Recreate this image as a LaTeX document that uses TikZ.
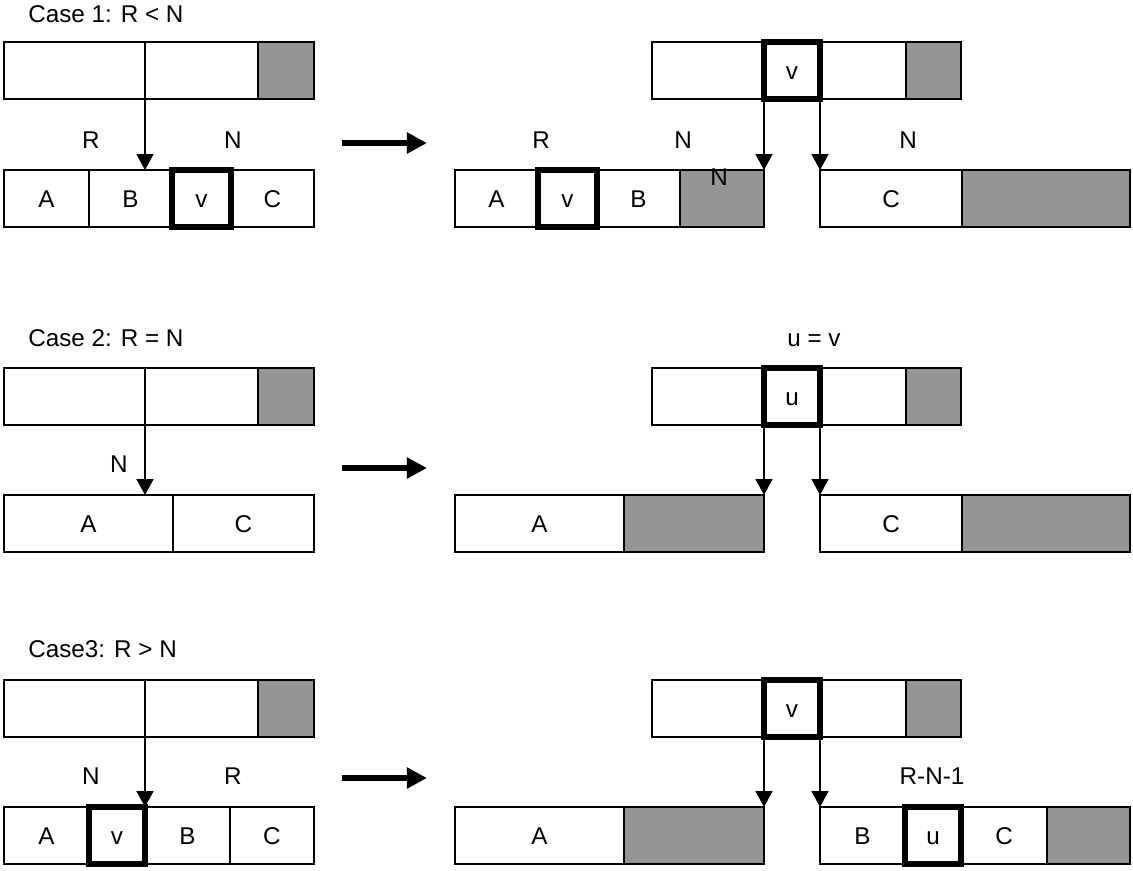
\documentclass[tikz,border=0pt]{standalone}
\usepackage{fontspec}
\setmainfont{Liberation Sans}
\usepackage{tikz}
\usetikzlibrary{arrows.meta,calc}
\definecolor{shadex}{HTML}{969696}
\tikzset{
  cell/.style={draw,line width=1.1pt,inner sep=0pt,outer sep=0pt,minimum height=1.14cm,
    text height=9.8pt,text depth=0pt,font=\fontsize{13.8}{16}\selectfont},
  shade/.style={cell,fill=shadex},
  hot/.style={cell,line width=3.2pt},
  lbl/.style={inner sep=0pt,text height=9.8pt,text depth=0pt,font=\fontsize{13.8}{16}\selectfont},
  ar/.style={-{Triangle[length=9pt,width=9.5pt]},line width=1.1pt},
  bigar/.style={-{Triangle[length=11.5pt,width=11.5pt]},line width=3.8pt}
}

\begin{document}
\begin{tikzpicture}[x=0.02cm,y=-0.02cm]
\def\seg#1#2#3#4#5#6{\node[#6,minimum width={(#3-#2)*0.02cm}] (#1) at ({(#2+#3)/2},{#4+28.5}) {#5};}
\useasboundingbox (0,0) rectangle (1133,870);
% case 1
\node[lbl,anchor=west] (c1) at (28,14) {Case 1: R < N};
\seg{ta1}{4}{145}{42}{}{cell}
\seg{tb1}{145}{258}{42}{}{cell}
\seg{tg1}{258}{314}{42}{}{shade}
\seg{ba1}{4}{89}{170}{A}{cell}
\seg{bb1}{89}{172}{170}{B}{cell}
\seg{bc1}{231}{314}{170}{C}{cell}
\seg{bv1}{172}{231}{170}{v}{hot}
\draw[ar] (ta1.south east) -- (ta1.south east |- ba1.north);
\node[lbl] (r1) at (91,140) {R};
\node[lbl] (n1) at (233,140) {N};
\coordinate (s1) at (342,143);
\coordinate (e1) at (427,143);
\draw[bigar] (s1) -- (e1);
\seg{ra1}{652}{764}{42}{}{cell}
\seg{rb1}{820}{906}{42}{}{cell}
\seg{rg1}{906}{961}{42}{}{shade}
\seg{rv1}{764}{820}{42}{v}{hot}
\seg{la1}{455}{538}{170}{A}{cell}
\seg{lb1}{597}{680}{170}{B}{cell}
\seg{lg1}{680}{764}{170}{}{shade}
\seg{lv1}{538}{597}{170}{v}{hot}
\seg{mc1}{820}{962}{170}{C}{cell}
\seg{mg1}{962}{1130}{170}{}{shade}
\draw[ar] (rv1.south west) -- (lg1.north east);
\draw[ar] (rv1.south east) -- (mc1.north west);
\node[lbl] (r1b) at (541,140) {R};
\node[lbl] (n1b) at (683,140) {N};
\node[lbl] (n1c) at (908,140) {N};
\node[lbl] (n1d) at (719,177) {N};
% case 2
\node[lbl,anchor=west] (c2) at (28,338) {Case 2: R = N};
\seg{ta2}{4}{145}{368}{}{cell}
\seg{tb2}{145}{258}{368}{}{cell}
\seg{tg2}{258}{314}{368}{}{shade}
\seg{ba2}{4}{173}{495}{A}{cell}
\seg{bc2}{173}{314}{495}{C}{cell}
\draw[ar] (ta2.south east) -- (ta2.south east |- ba2.north);
\node[lbl] (n2) at (119,464) {N};
\coordinate (s2) at (342,468);
\coordinate (e2) at (427,468);
\draw[bigar] (s2) -- (e2);
\node[lbl] (uv2) at (814,338) {u = v};
\seg{ra2}{652}{764}{368}{}{cell}
\seg{rb2}{820}{906}{368}{}{cell}
\seg{rg2}{906}{961}{368}{}{shade}
\seg{ru2}{764}{820}{368}{u}{hot}
\seg{la2}{455}{624}{495}{A}{cell}
\seg{lg2}{624}{764}{495}{}{shade}
\seg{mc2}{820}{962}{495}{C}{cell}
\seg{mg2}{962}{1130}{495}{}{shade}
\draw[ar] (ru2.south west) -- (lg2.north east);
\draw[ar] (ru2.south east) -- (mc2.north west);
% case 3
\node[lbl,anchor=west] (c3) at (28,649) {Case3: R > N};
\seg{ta3}{4}{145}{680}{}{cell}
\seg{tb3}{145}{258}{680}{}{cell}
\seg{tg3}{258}{314}{680}{}{shade}
\seg{ba3}{4}{89}{807}{A}{cell}
\seg{bb3}{145}{230}{807}{B}{cell}
\seg{bc3}{230}{314}{807}{C}{cell}
\seg{bv3}{89}{145}{807}{v}{hot}
\draw[ar] (ta3.south east) -- (ta3.south east |- ba3.north);
\node[lbl] (n3) at (91,776) {N};
\node[lbl] (r3) at (233,776) {R};
\coordinate (s3) at (342,778);
\coordinate (e3) at (427,778);
\draw[bigar] (s3) -- (e3);
\seg{ra3}{652}{764}{680}{}{cell}
\seg{rb3}{820}{906}{680}{}{cell}
\seg{rg3}{906}{961}{680}{}{shade}
\seg{rv3}{764}{820}{680}{v}{hot}
\seg{la3}{455}{624}{807}{A}{cell}
\seg{lg3}{624}{764}{807}{}{shade}
\seg{mb3}{820}{905}{807}{B}{cell}
\seg{mc3}{961}{1047}{807}{C}{cell}
\seg{mg3}{1047}{1130}{807}{}{shade}
\seg{mu3}{905}{961}{807}{u}{hot}
\draw[ar] (rv3.south west) -- (lg3.north east);
\draw[ar] (rv3.south east) -- (mb3.north west);
\node[lbl] (rn3) at (932,776) {R-N-1};
\end{tikzpicture}
\end{document}
